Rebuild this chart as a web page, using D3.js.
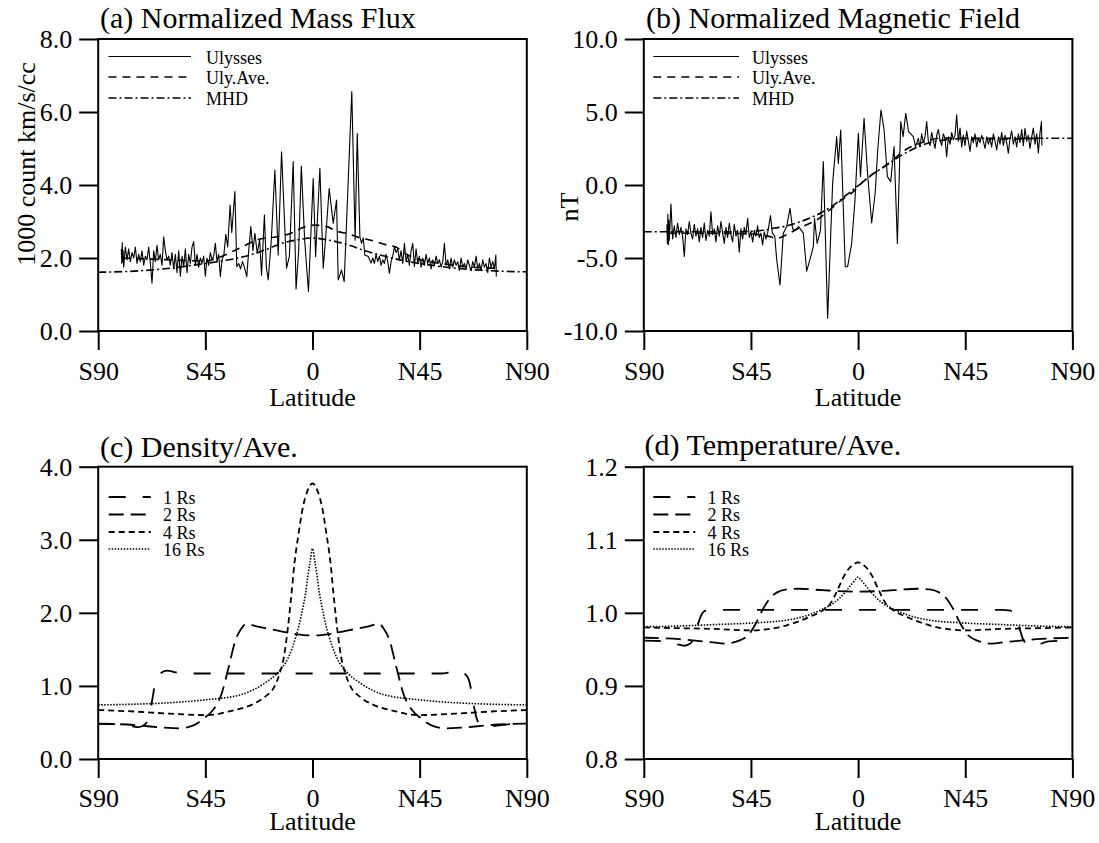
<!DOCTYPE html>
<html><head><meta charset="utf-8">
<script src="https://cdn.jsdelivr.net/npm/d3@7"></script>
<style>
body{margin:0;background:#fff;}
svg{display:block;font-family:"Liberation Serif","Times New Roman",serif;}
</style>
</head><body><div id="chart"></div>
<script>
// ---------- data ----------
const latTicks = [-90,-45,0,45,90];
const latTickLabels = ["S90","S45","0","N45","N90"];
const fluxTicks = [0,2,4,6,8];
const fieldTicks = [-10,-5,0,5,10];
const densTicks = [0,1,2,3,4];
const tempTicks = [0.8,0.9,1.0,1.1,1.2];

const ulyssesFlux = [
[-80.3,2.25],[-80.1,1.85],[-79.9,2.42],[-79.7,1.9],[-79.5,2.2],[-79.3,1.75],[-78.6,2.3],[-77.9,1.95],[-77.2,2.25],[-76.5,1.9],[-75.8,2.15],[-75.1,2.0],[-74.4,2.3],[-73.7,1.85],[-73.0,2.1],[-72.3,1.9],[-71.6,2.2],[-70.9,1.8],[-70.2,2.05],[-69.5,1.95],[-68.8,2.3],[-68.1,1.85],[-67.4,1.31],[-66.7,2.2],[-66.0,1.9],[-65.3,2.35],[-64.6,1.95],[-63.9,2.1],[-63.2,1.8],[-62.5,2.58],[-61.8,2.2],[-61.1,1.95],[-60.4,2.05],[-59.7,1.8],[-59.0,2.15],[-58.3,1.7],[-57.6,2.1],[-56.9,1.6],[-56.2,2.2],[-55.5,1.5],[-54.8,2.05],[-54.1,1.75],[-53.4,2.25],[-52.7,1.6],[-52.0,2.1],[-51.3,1.85],[-50.6,2.3],[-49.9,2.45],[-49.2,1.8],[-48.5,2.1],[-47.8,1.75],[-47.1,2.0],[-46.4,1.85],[-45.7,2.05],[-45.0,1.5],[-44.3,2.0],[-43.6,1.8],[-42.9,2.15],[-42.2,1.95],[-41.5,2.05],[-40.8,2.4],[-40.1,1.9],[-39.4,2.1],[-38.7,1.49],[-38.0,1.95],
[-37.2,2.1],[-36.4,2.65],[-35.6,2.3],[-34.6,3.45],[-33.9,2.7],[-32.6,3.82],[-31.8,1.76],[-31.0,1.85],[-30.2,1.7],[-29.4,1.9],[-28.6,1.75],[-27.6,1.49],[-26.8,2.2],[-25.9,2.86],[-25.0,2.2],[-24.2,2.68],[-23.2,2.13],[-22.2,2.5],[-21.4,1.53],[-20.2,3.18],[-19.4,1.76],[-18.6,1.4],[-17.3,2.49],[-15.8,4.41],[-14.4,2.08],[-13.0,4.91],[-10.9,1.72],[-9.7,2.05],[-8.1,4.64],[-6.9,1.15],[-5.8,2.2],[-4.7,4.52],[-3.3,2.5],[-1.7,1.08],[0.3,4.18],[1.3,2.04],[3.1,4.46],[4.5,1.72],[5.7,2.7],[7.0,3.9],[8.7,2.95],[10.1,3.59],[10.8,1.4],[12.2,1.67],[13.3,1.35],[16.5,6.56],[17.9,2.49],[18.8,5.41],[19.9,2.58],[20.6,2.4],[21.3,2.55],[22.0,2.08],[23.4,2.04],[24.6,1.86],
[25.3,2.0],[26.0,1.85],[26.7,2.1],[27.4,1.9],[28.1,2.05],[28.8,1.8],[29.5,1.95],[30.2,1.85],[30.9,2.1],[31.6,1.9],[32.3,1.58],[33.0,1.9],[33.7,2.05],[34.4,2.31],[35.1,2.15],[35.8,2.25],[36.5,1.95],[37.2,2.2],[37.9,1.85],[38.6,2.4],[39.3,1.9],[40.0,2.1],[40.7,1.8],[41.4,2.2],[42.1,2.4],[42.8,1.77],[43.5,2.25],[44.2,1.85],[44.9,2.05],[45.6,1.75],[46.3,2.0],[47.0,1.8],[47.7,2.1],[48.4,1.85],[49.1,2.0],[49.8,1.7],[50.5,1.95],[51.2,1.8],[51.9,2.05],[52.6,1.85],[53.3,1.95],[54.0,1.75],[54.7,1.9],[55.4,2.4],[56.1,1.8],[56.8,1.95],[57.5,1.7],[58.2,2.0],[58.9,1.75],[59.6,1.95],[60.3,1.8],[61.0,1.9],[61.7,1.65],[62.4,2.0],[63.1,1.75],[63.8,1.85],[64.5,1.7],[65.2,1.95],[65.9,1.8],[66.6,1.65],[67.3,1.9],[68.0,1.75],[68.7,2.05],[69.4,1.7],[70.1,1.85],[70.8,1.65],[71.5,1.95],[72.2,1.75],[72.9,1.85],[73.6,1.6],[74.3,2.0],[75.0,1.75],[75.7,1.9],[76.4,1.7],[77.0,2.08],[77.2,1.49]
];
const ulyssesFluxAve = [[-80,2.0],[-60,1.95],[-45,1.92],[-38,2.05],[-31,2.26],[-22,2.52],[-15,2.58],[-9,2.68],[-3,2.86],[1,2.9],[6,2.86],[10,2.74],[15,2.66],[20,2.55],[25,2.48],[31,2.36],[35,2.3],[40,2.08],[45,1.96],[54,1.85],[63,1.77],[77,1.72]];
const mhdFlux = [[-90,1.61],[-75,1.64],[-60,1.72],[-45,1.85],[-35,1.95],[-28,2.05],[-20,2.22],[-13,2.4],[-6,2.5],[0,2.55],[6,2.5],[15,2.36],[22,2.2],[31,2.04],[38,1.93],[45,1.85],[60,1.72],[75,1.65],[90,1.62]];

const ulyssesField = [
[-80.3,-2.7],[-80.1,-4.0],[-79.9,-2.0],[-79.7,-4.1],[-79.5,-2.4],[-79.3,-3.8],[-78.6,-1.3],[-77.9,-3.7],[-77.2,-2.8],[-76.5,-3.6],[-75.8,-2.6],[-75.1,-3.4],[-74.4,-2.9],[-73.7,-3.5],[-73.0,-4.9],[-72.3,-3.0],[-71.6,-3.4],[-70.9,-2.5],[-70.2,-3.3],[-69.5,-3.7],[-68.8,-2.7],[-68.1,-3.5],[-67.4,-3.0],[-66.7,-3.9],[-66.0,-2.9],[-65.3,-3.6],[-64.6,-2.6],[-63.9,-3.8],[-63.2,-3.1],[-62.5,-3.5],[-61.8,-1.83],[-61.1,-3.4],[-60.4,-3.0],[-59.7,-3.9],[-59.0,-2.8],[-58.3,-3.5],[-57.6,-2.5],[-56.9,-3.3],[-56.2,-4.0],[-55.5,-2.9],[-54.8,-3.6],[-54.1,-2.6],[-53.4,-3.4],[-52.7,-3.9],[-52.0,-2.7],[-51.3,-3.5],[-50.6,-3.1],[-49.9,-4.6],[-49.2,-3.0],[-48.5,-3.7],[-47.8,-2.9],[-47.1,-3.4],[-46.4,-2.28],[-45.7,-3.6],[-45.0,-3.2],[-44.3,-3.9],[-43.6,-3.1],[-42.9,-3.5],[-42.2,-2.8],[-41.5,-3.6],[-40.8,-3.3],[-40.1,-4.1],[-39.4,-3.2],[-38.7,-3.7],[-38.0,-3.3],
[-36.8,-2.1],[-36.0,-3.3],[-35.0,-3.5],[-34.2,-5.1],[-32.8,-6.85],[-31.4,-3.3],[-30.0,-2.85],[-28.6,-1.6],[-27.5,-3.0],[-26.5,-3.1],[-25.0,-2.85],[-23.0,-3.3],[-21.6,-5.9],[-20.2,-5.1],[-18.8,-4.2],[-18.3,-2.3],[-17.2,-4.0],[-15.8,-3.1],[-14.6,1.6],[-12.8,-9.13],[-10.7,0.11],[-9.0,3.31],[-8.3,1.48],[-7.3,3.77],[-5.4,-5.6],[-4.4,-5.6],[-2.7,-4.0],[-1.3,-1.03],[0.1,3.54],[1.0,0.57],[2.5,4.57],[3.9,0.94],[5.7,-2.6],[7.2,-0.5],[8.2,2.3],[9.6,5.14],[10.9,3.8],[12.3,0.57],[13.7,0.23],[15.1,2.63],[16.5,-4.0],[17.9,4.34],[18.9,3.31],[20.0,4.91],[21.2,3.65],[23.2,3.31],[24.1,2.63],
[25.3,3.2],[26.0,2.6],[26.7,3.5],[27.4,2.9],[28.1,3.3],[28.8,4.34],[29.5,3.0],[30.2,2.7],[30.9,3.6],[31.6,3.0],[32.3,2.5],[33.0,3.4],[33.7,3.8],[34.4,3.1],[35.1,2.7],[35.8,3.5],[36.5,3.2],[37.2,1.94],[37.9,3.3],[38.6,2.8],[39.3,3.6],[40.0,3.1],[40.7,3.4],[41.4,4.8],[42.1,3.0],[42.8,3.9],[43.5,2.6],[44.2,3.4],[44.9,2.7],[45.6,3.7],[46.3,3.0],[47.0,2.3],[47.7,3.3],[48.4,2.9],[49.1,3.5],[49.8,2.6],[50.5,3.2],[51.2,2.9],[51.9,3.4],[52.6,3.0],[53.3,2.5],[54.0,3.3],[54.7,2.8],[55.4,3.2],[56.1,2.6],[56.8,3.5],[57.5,3.0],[58.2,2.4],[58.9,3.3],[59.6,2.8],[60.3,3.6],[61.0,2.7],[61.7,3.4],[62.4,2.9],[63.1,2.17],[63.8,3.2],[64.5,3.7],[65.2,2.8],[65.9,3.3],[66.6,2.6],[67.3,3.5],[68.0,2.9],[68.7,3.8],[69.4,2.7],[70.1,3.88],[70.8,3.0],[71.5,3.4],[72.2,2.5],[72.9,3.3],[73.6,3.9],[74.3,2.8],[75.0,3.5],[75.7,2.2],[76.4,3.6],[77.0,4.34],[77.2,2.7]
];
const ulyssesFieldAve = [[-80,-3.3],[-60,-3.3],[-45,-3.35],[-38,-3.5],[-34,-3.65],[-30,-3.4],[-26,-3.05],[-20,-2.6],[-17,-2.35],[-13,-1.85],[-9,-1.3],[-5,-0.8],[-2,-0.45],[0,-0.1],[3,0.35],[6,0.75],[9,1.05],[12,1.4],[15,1.75],[18,2.2],[22,2.6],[28,2.97],[35,3.22],[45,3.2],[60,3.15],[77,3.2]];
const mhdField = [[-90,-3.2],[-70,-3.2],[-50,-3.2],[-40,-3.1],[-35,-2.95],[-30,-2.8],[-25,-2.55],[-20,-2.25],[-15,-1.85],[-10,-1.35],[-5,-0.7],[0,-0.05],[5,0.6],[10,1.15],[15,1.7],[20,2.2],[25,2.6],[30,2.9],[35,3.05],[40,3.15],[50,3.2],[90,3.2]];

const dens1Rs = [[-90,0.48],[-82,0.475],[-76,0.45],[-73,0.435],[-70.5,0.47],[-69,0.55],[-67.8,0.72],[-65.7,1.08],[-63.5,1.18],[-61,1.21],[-58,1.19],[-54,1.17],[0,1.17],[54,1.17],[58,1.19],[61,1.21],[63.5,1.18],[65.7,1.08],[67.8,0.72],[69,0.55],[70.5,0.47],[73,0.435],[76,0.45],[82,0.475],[90,0.48]];
const dens2Rs = [[-90,0.485],[-75,0.465],[-63,0.43],[-56,0.42],[-50,0.46],[-45.5,0.56],[-41.8,0.67],[-38.1,0.9],[-35.2,1.26],[-32.3,1.63],[-30,1.78],[-27.8,1.85],[-24,1.82],[-15,1.76],[-7,1.71],[0,1.69],[7,1.71],[15,1.76],[24,1.82],[27.8,1.85],[30,1.78],[32.3,1.63],[35.2,1.26],[38.1,0.9],[41.8,0.67],[45.5,0.56],[50,0.46],[56,0.42],[63,0.43],[75,0.465],[90,0.485]];
const dens4Rs = [[-90,0.67],[-75,0.65],[-60,0.62],[-44,0.6],[-34,0.66],[-25,0.75],[-20,0.85],[-16,0.99],[-14,1.15],[-12,1.4],[-10.5,1.75],[-9,2.2],[-7.5,2.7],[-6,3.05],[-4,3.45],[-2,3.68],[0,3.77],[2,3.68],[4,3.45],[6,3.05],[7.5,2.7],[9,2.2],[10.5,1.75],[12,1.4],[14,1.15],[16,0.99],[20,0.85],[25,0.75],[34,0.66],[44,0.6],[60,0.62],[75,0.65],[90,0.67]];
const dens16Rs = [[-90,0.74],[-75,0.75],[-60,0.77],[-45,0.81],[-30,0.88],[-20,1.04],[-15,1.17],[-10,1.4],[-7,1.67],[-5.5,1.85],[-4,2.08],[-3,2.25],[-2,2.49],[-1,2.7],[0,2.88],[1,2.7],[2,2.49],[3,2.25],[4,2.08],[5.5,1.85],[7,1.67],[10,1.4],[15,1.17],[20,1.04],[30,0.88],[45,0.81],[60,0.77],[75,0.75],[90,0.74]];

const temp1Rs = [[-90,0.962],[-80,0.961],[-76,0.957],[-73,0.955],[-70.5,0.958],[-69,0.966],[-67.5,0.982],[-66,0.996],[-64,1.003],[-60,1.004],[0,1.004],[60,1.004],[64,1.003],[66,0.996],[67.5,0.982],[69,0.966],[70.5,0.958],[73,0.955],[76,0.957],[80,0.961],[90,0.962]];
const temp2Rs = [[-90,0.966],[-75,0.964],[-62,0.96],[-56,0.958],[-50,0.962],[-46,0.97],[-43,0.985],[-40,1.005],[-37,1.02],[-34,1.028],[-30,1.032],[-25,1.033],[-15,1.031],[0,1.029],[15,1.031],[25,1.033],[30,1.032],[34,1.028],[37,1.02],[40,1.005],[43,0.985],[46,0.97],[50,0.962],[56,0.958],[62,0.96],[75,0.964],[90,0.966]];
const temp4Rs = [[-90,0.98],[-75,0.979],[-60,0.978],[-45,0.976],[-30,0.983],[-20,0.995],[-15,1.003],[-12,1.011],[-10,1.022],[-8,1.036],[-6,1.05],[-4,1.06],[-2,1.066],[0,1.069],[2,1.066],[4,1.06],[6,1.05],[8,1.036],[10,1.022],[12,1.011],[15,1.003],[20,0.995],[30,0.983],[45,0.976],[60,0.978],[75,0.979],[90,0.98]];
const temp16Rs = [[-90,0.981],[-75,0.982],[-60,0.984],[-45,0.986],[-30,0.99],[-20,0.998],[-15,1.005],[-10,1.014],[-7.5,1.021],[-5,1.03],[-2.5,1.04],[-1,1.046],[0,1.049],[1,1.046],[2.5,1.04],[5,1.03],[7.5,1.021],[10,1.014],[15,1.005],[20,0.998],[30,0.99],[45,0.986],[60,0.984],[75,0.982],[90,0.981]];

const legendTop = ["Ulysses","Uly.Ave.","MHD"];
const legendBottom = ["1 Rs","2 Rs","4 Rs","16 Rs"];

// ---------- drawing ----------
const W=1099,H=843;
const FONT='"Liberation Serif","Times New Roman",serif';
const svg=d3.select('#chart').append('svg').attr('width',W).attr('height',H);
svg.append('rect').attr('width',W).attr('height',H).attr('fill','#fff');

const ST = {
  solid:{dash:null,w:1.1},
  ave:{dash:'8,6',w:1.6},
  mhd:{dash:'8,3,2,3',w:1.6},
  r1:{dash:'17,17',w:1.8},
  r2:{dash:'15,7',w:1.8},
  r4:{dash:'6,4',w:1.8},
  r16:{dash:'1.5,1.5',w:1.6}
};

function drawPanel(p){
  const g=svg.append('g');
  const x=d3.scaleLinear().domain([-90,90]).range([p.left,p.right]);
  const y=d3.scaleLinear().domain(p.yDomain).range([p.bottom,p.top]);
  p.series.forEach(s=>{
    const ln=d3.line().x(d=>x(d[0])).y(d=>y(d[1])).curve(s.curve||d3.curveLinear);
    g.append('path').datum(s.data).attr('fill','none').attr('stroke','#000')
      .attr('stroke-width',s.style.w).attr('stroke-dasharray',s.style.dash)
      .attr('stroke-linejoin','round').attr('d',ln);
  });
  g.append('rect').attr('x',p.left).attr('y',p.top).attr('width',p.right-p.left)
    .attr('height',p.bottom-p.top).attr('fill','none').attr('stroke','#000').attr('stroke-width',2);
  const ya=g.append('g').attr('transform',`translate(${p.left},0)`)
    .call(d3.axisLeft(y).tickValues(p.yTicks).tickFormat(d=>d.toFixed(1)).tickSize(19).tickPadding(7));
  ya.select('.domain').remove();
  ya.selectAll('line').attr('stroke-width',2);
  ya.selectAll('text').attr('font-size',26).attr('font-family',FONT).attr('fill','#000');
  const xa=g.append('g').attr('transform',`translate(0,${p.bottom})`)
    .call(d3.axisBottom(x).tickValues(latTicks).tickFormat((d,i)=>latTickLabels[i]).tickSize(19));
  xa.select('.domain').remove();
  xa.selectAll('line').attr('stroke-width',2);
  xa.selectAll('text').attr('font-size',26).attr('font-family',FONT).attr('fill','#000')
    .attr('y',p.xLabelOff).attr('dy',null);
  g.append('text').attr('x',(p.left+p.right)/2).attr('y',p.bottom+p.latOff).attr('text-anchor','middle')
    .attr('font-size',26).text('Latitude');
  g.append('text').attr('x',p.titleX).attr('y',p.titleY).attr('font-size',30).text(p.title);
  if(p.ylabel){
    g.append('text').attr('transform',`translate(${p.ylabelX},${p.ylabelY}) rotate(-90)`)
      .attr('text-anchor','middle').attr('font-size',26).text(p.ylabel);
  }
  const L=p.legend;
  L.items.forEach((it,i)=>{
    g.append('line').attr('x1',L.x1).attr('x2',L.x2).attr('y1',L.ys[i]).attr('y2',L.ys[i])
      .attr('stroke','#000').attr('stroke-width',it.style.w).attr('stroke-dasharray',it.style.dash);
    g.append('text').attr('x',L.tx).attr('y',L.ys[i]+L.dy).attr('font-size',L.fs).text(it.label);
  });
}

const topY=[56.5,77,98];
const botY=[497,514.5,532,549];

drawPanel({left:98.2,right:526.8,top:39,bottom:331,yDomain:[0,8],yTicks:fluxTicks,
  xLabelOff:49,latOff:75,title:'(a) Normalized Mass Flux',titleX:100,titleY:28,
  ylabel:'1000 count km/s/cc',ylabelX:35,ylabelY:164,
  series:[{data:ulyssesFlux,style:ST.solid},{data:ulyssesFluxAve,style:ST.ave,curve:d3.curveMonotoneX},{data:mhdFlux,style:ST.mhd,curve:d3.curveMonotoneX}],
  legend:{x1:108.5,x2:191,tx:206,ys:topY,dy:7,fs:18,items:[{label:legendTop[0],style:ST.solid},{label:legendTop[1],style:ST.ave},{label:legendTop[2],style:ST.mhd}]}
});
drawPanel({left:643.8,right:1072.4,top:39,bottom:331,yDomain:[-10,10],yTicks:fieldTicks,
  xLabelOff:49,latOff:75,title:'(b) Normalized Magnetic Field',titleX:646,titleY:28,
  ylabel:'nT',ylabelX:578,ylabelY:207,
  series:[{data:ulyssesField,style:ST.solid},{data:ulyssesFieldAve,style:ST.ave,curve:d3.curveMonotoneX},{data:mhdField,style:ST.mhd,curve:d3.curveMonotoneX}],
  legend:{x1:653.3,x2:739,tx:752,ys:topY,dy:7,fs:18,items:[{label:legendTop[0],style:ST.solid},{label:legendTop[1],style:ST.ave},{label:legendTop[2],style:ST.mhd}]}
});
drawPanel({left:98.2,right:526.8,top:466.7,bottom:759,yDomain:[0,4],yTicks:densTicks,
  xLabelOff:48,latOff:71,title:'(c) Density/Ave.',titleX:100,titleY:456.5,
  series:[{data:dens1Rs,style:ST.r1,curve:d3.curveMonotoneX},{data:dens2Rs,style:ST.r2,curve:d3.curveMonotoneX},{data:dens4Rs,style:ST.r4,curve:d3.curveMonotoneX},{data:dens16Rs,style:ST.r16,curve:d3.curveMonotoneX}],
  legend:{x1:108.7,x2:150.8,tx:163,ys:botY,dy:6.5,fs:18,items:[{label:legendBottom[0],style:ST.r1},{label:legendBottom[1],style:ST.r2},{label:legendBottom[2],style:ST.r4},{label:legendBottom[3],style:ST.r16}]}
});
drawPanel({left:643.8,right:1072.4,top:466.7,bottom:759,yDomain:[0.8,1.2],yTicks:tempTicks,
  xLabelOff:48,latOff:71,title:'(d) Temperature/Ave.',titleX:644.5,titleY:455,
  series:[{data:temp1Rs,style:ST.r1,curve:d3.curveMonotoneX},{data:temp2Rs,style:ST.r2,curve:d3.curveMonotoneX},{data:temp4Rs,style:ST.r4,curve:d3.curveMonotoneX},{data:temp16Rs,style:ST.r16,curve:d3.curveMonotoneX}],
  legend:{x1:653.3,x2:695.3,tx:707.6,ys:botY,dy:6.5,fs:18,items:[{label:legendBottom[0],style:ST.r1},{label:legendBottom[1],style:ST.r2},{label:legendBottom[2],style:ST.r4},{label:legendBottom[3],style:ST.r16}]}
});
</script>
</body></html>
